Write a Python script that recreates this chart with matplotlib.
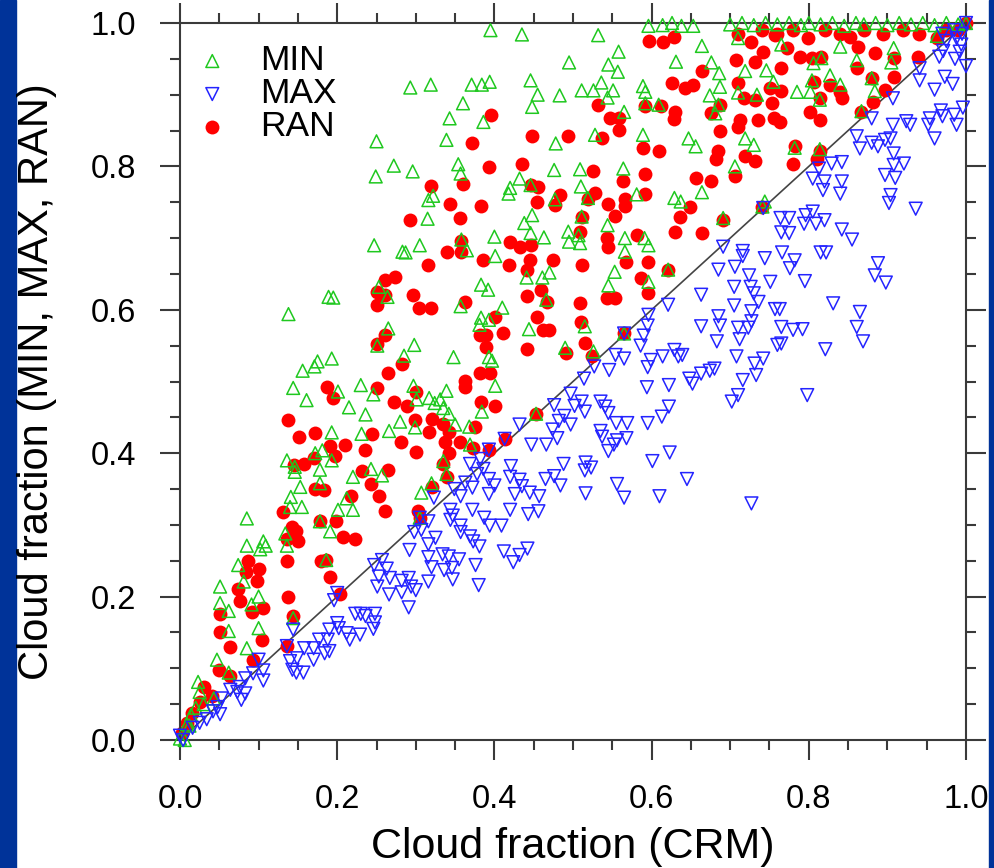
import matplotlib
matplotlib.use("Agg")
import matplotlib.pyplot as plt
from matplotlib.patches import Rectangle

plt.rcParams["font.family"] = ["Liberation Sans", "DejaVu Sans"]

# ── data (cloud fraction, CRM vs overlap schemes) ──

min_x = [0.085, 0.106, 0.102, 0.085, 0.109, 0.134, 0.136, 0.140, 0.155, 0.178, 0.191, 0.201, 0.220,
         0.074, 0.081, 0.051, 0.051, 0.062, 0.091, 0.100, 0.062, 0.100, 0.085, 0.047, 0.062, 0.023,
         0.025, 0.043, 0.186, 0.144, 0.014, 0.009, 0.000, 0.006, 0.020, 0.030, 0.012,
         0.138, 0.189, 0.195, 0.193, 0.175, 0.171, 0.156, 0.144, 0.161, 0.201, 0.215, 0.230, 0.236,
         0.193, 0.231, 0.172, 0.181, 0.193, 0.136, 0.146, 0.146, 0.178, 0.178, 0.220, 0.153, 0.212, 0.141,
         0.395, 0.435, 0.495, 0.293, 0.319, 0.371, 0.384, 0.394, 0.446, 0.455, 0.483, 0.448, 0.360,
         0.343, 0.386, 0.250, 0.339, 0.478, 0.272, 0.296, 0.249, 0.354, 0.357, 0.476, 0.432, 0.446,
         0.420, 0.418, 0.316, 0.322, 0.477, 0.315, 0.448, 0.438, 0.446, 0.494, 0.400, 0.463, 0.358,
         0.247, 0.305, 0.283, 0.365, 0.495,
         0.532, 0.596, 0.614, 0.626, 0.638, 0.653, 0.558, 0.664, 0.631, 0.545, 0.557, 0.676, 0.686,
         0.710, 0.511, 0.526, 0.536, 0.551, 0.544, 0.589, 0.592, 0.592, 0.609, 0.687, 0.674, 0.685,
         0.681, 0.719, 0.710, 0.734, 0.746, 0.755, 0.565, 0.528, 0.589, 0.647, 0.656, 0.719, 0.730,
         0.509, 0.564, 0.706, 0.510, 0.519, 0.581, 0.629, 0.637, 0.664, 0.691, 0.511, 0.544, 0.507,
         0.509, 0.596, 0.566, 0.744,
         0.840, 0.908, 0.861, 0.905, 0.806, 0.816, 0.827, 0.804, 0.840, 0.785, 0.802, 0.880, 0.884,
         0.814, 0.867, 0.782, 0.814, 0.963, 0.765,
         0.287, 0.401, 0.253, 0.264, 0.383, 0.392, 0.441, 0.461, 0.470, 0.357, 0.410, 0.466, 0.383,
         0.393, 0.381, 0.265, 0.444, 0.298, 0.251, 0.285, 0.348, 0.393, 0.397, 0.490, 0.297, 0.246,
         0.401, 0.339, 0.317, 0.324, 0.331, 0.335, 0.342, 0.301, 0.384, 0.280, 0.299, 0.266, 0.350,
         0.368, 0.369, 0.335, 0.339, 0.243, 0.257, 0.320, 0.307,
         0.566, 0.591, 0.553, 0.545, 0.596, 0.621, 0.515, 0.526, 0.565, 0.305, 0.453, 0.741,
         0.700, 0.715, 0.730, 0.745, 0.760, 0.775, 0.790, 0.800, 0.815, 0.830, 0.845, 0.860, 0.870,
         0.885, 0.900, 0.915, 0.930, 0.945, 0.960, 0.975, 0.990, 1.000]
min_y = [0.309, 0.277, 0.266, 0.271, 0.271, 0.288, 0.271, 0.325, 0.325, 0.305, 0.291, 0.321, 0.321,
         0.244, 0.221, 0.214, 0.191, 0.180, 0.189, 0.200, 0.152, 0.156, 0.128, 0.112, 0.094, 0.081,
         0.067, 0.058, 0.251, 0.170, 0.035, 0.022, 0.002, 0.000, 0.045, 0.050, 0.020,
         0.594, 0.618, 0.617, 0.532, 0.528, 0.521, 0.515, 0.491, 0.474, 0.486, 0.464, 0.495, 0.454,
         0.429, 0.427, 0.400, 0.404, 0.390, 0.390, 0.381, 0.374, 0.377, 0.358, 0.367, 0.353, 0.337, 0.339,
         0.990, 0.984, 0.945, 0.910, 0.914, 0.914, 0.914, 0.918, 0.920, 0.900, 0.899, 0.883, 0.888,
         0.867, 0.862, 0.835, 0.837, 0.832, 0.801, 0.793, 0.786, 0.803, 0.790, 0.795, 0.783, 0.774,
         0.770, 0.762, 0.753, 0.759, 0.754, 0.727, 0.732, 0.721, 0.707, 0.709, 0.702, 0.701, 0.698,
         0.690, 0.690, 0.681, 0.683, 0.695,
         0.983, 0.996, 0.997, 1.000, 0.996, 0.996, 0.960, 0.968, 0.946, 0.942, 0.932, 0.945, 0.930,
         0.979, 0.906, 0.906, 0.917, 0.906, 0.896, 0.912, 0.904, 0.888, 0.886, 0.911, 0.899, 0.886,
         0.874, 0.933, 0.903, 0.900, 0.934, 0.918, 0.876, 0.844, 0.844, 0.839, 0.828, 0.839, 0.830,
         0.796, 0.797, 0.800, 0.772, 0.756, 0.761, 0.756, 0.751, 0.764, 0.728, 0.730, 0.718, 0.704,
         0.693, 0.690, 0.681, 0.751,
         0.967, 0.965, 0.948, 0.945, 0.944, 0.951, 0.927, 0.920, 0.914, 0.904, 0.904, 0.923, 0.905,
         0.893, 0.877, 0.826, 0.824, 0.982, 0.970,
         0.680, 0.675, 0.632, 0.618, 0.635, 0.628, 0.645, 0.645, 0.652, 0.605, 0.603, 0.614, 0.589,
         0.586, 0.579, 0.574, 0.573, 0.551, 0.550, 0.536, 0.534, 0.534, 0.529, 0.547, 0.494, 0.482,
         0.494, 0.487, 0.477, 0.470, 0.475, 0.463, 0.455, 0.475, 0.458, 0.444, 0.436, 0.431, 0.440,
         0.437, 0.412, 0.389, 0.371, 0.378, 0.369, 0.358, 0.345,
         0.700, 0.700, 0.653, 0.634, 0.639, 0.656, 0.577, 0.542, 0.567, 0.310, 0.455, 0.744,
         0.998, 1.000, 0.997, 1.000, 0.998, 1.000, 0.997, 1.000, 0.998, 1.000, 0.996, 1.000, 0.998,
         1.000, 0.997, 1.000, 0.998, 1.000, 0.997, 1.000, 0.998, 1.000]

max_x = [0.200, 0.196, 0.223, 0.230, 0.236, 0.200, 0.190, 0.202, 0.212, 0.216, 0.229, 0.144, 0.177,
         0.188, 0.170, 0.158, 0.184, 0.190, 0.170, 0.140, 0.149, 0.143, 0.148, 0.157, 0.136, 0.100,
         0.106, 0.106, 0.093, 0.083, 0.076, 0.083, 0.078, 0.073, 0.064, 0.053, 0.048, 0.051, 0.042,
         0.034, 0.025, 0.016, 0.000, 0.004,
         0.344, 0.347, 0.372, 0.387, 0.394, 0.409, 0.420, 0.443, 0.456, 0.316, 0.298, 0.307, 0.325,
         0.344, 0.357, 0.357, 0.369, 0.381, 0.373, 0.316, 0.292, 0.316, 0.320, 0.334, 0.342, 0.355,
         0.336, 0.346, 0.347, 0.376, 0.380, 0.412, 0.432, 0.442, 0.424, 0.247, 0.257, 0.263, 0.253,
         0.267, 0.251, 0.266, 0.282, 0.282, 0.291, 0.294, 0.300, 0.316, 0.291, 0.248, 0.248, 0.246,
         0.305,
         0.497, 0.476, 0.502, 0.489, 0.482, 0.497, 0.474, 0.480, 0.432, 0.447, 0.466, 0.413, 0.393,
         0.382, 0.386, 0.369, 0.378, 0.363, 0.372, 0.393, 0.400, 0.393, 0.349, 0.357, 0.323, 0.420,
         0.432, 0.435, 0.445, 0.426, 0.457, 0.465, 0.476, 0.484, 0.488, 0.421,
         0.685, 0.706, 0.716, 0.744, 0.724, 0.751, 0.705, 0.726, 0.730, 0.736, 0.663, 0.705, 0.621,
         0.727, 0.757, 0.685, 0.687, 0.727, 0.723, 0.710, 0.663, 0.712, 0.683, 0.760, 0.596, 0.595,
         0.590, 0.586, 0.708, 0.742, 0.731, 0.733, 0.716, 0.629, 0.634, 0.639, 0.614, 0.599, 0.595,
         0.565, 0.554, 0.546, 0.527, 0.514, 0.648, 0.652, 0.663, 0.674, 0.680, 0.622, 0.594, 0.702,
         0.710, 0.511, 0.515, 0.535, 0.541, 0.545, 0.622, 0.613, 0.595, 0.569, 0.555, 0.535, 0.537,
         0.556, 0.568, 0.552, 0.545, 0.623, 0.601, 0.516, 0.523, 0.515, 0.645, 0.556, 0.516, 0.565,
         0.610, 0.727, 0.691, 0.716, 0.742, 0.775, 0.766, 0.565,
         0.782, 0.776, 0.822, 0.795, 0.888, 0.884, 0.898, 0.831, 0.865, 0.763, 0.765, 0.780, 0.792,
         0.861, 0.869, 0.765, 0.821, 0.798,
         0.988, 0.994, 0.992, 0.986, 1.000, 0.975, 0.971, 0.966, 0.941, 0.941, 0.960, 0.973, 0.983,
         0.907, 0.880, 0.907, 0.924, 0.929, 0.954, 0.952, 0.968, 0.970, 0.985, 0.988, 0.996, 0.960,
         0.861, 0.865, 0.880, 0.888, 0.897, 0.904, 0.908, 0.908, 0.921, 0.897, 0.910, 0.902, 0.904,
         0.936, 0.829, 0.842, 0.813, 0.805, 0.820, 0.842, 0.840, 0.818, 0.764, 0.775, 0.796, 0.805,
         0.820, 0.794, 0.809, 0.842, 0.855, 0.815, 0.765, 0.985, 0.995, 1.000, 0.970]
max_y = [0.205, 0.195, 0.176, 0.176, 0.173, 0.163, 0.154, 0.156, 0.149, 0.140, 0.147, 0.154, 0.140,
         0.140, 0.128, 0.128, 0.121, 0.124, 0.112, 0.110, 0.114, 0.098, 0.094, 0.094, 0.131, 0.112,
         0.097, 0.083, 0.093, 0.086, 0.074, 0.065, 0.056, 0.067, 0.070, 0.058, 0.046, 0.036, 0.040,
         0.029, 0.024, 0.017, 0.006, 0.000,
         0.321, 0.313, 0.321, 0.310, 0.299, 0.299, 0.321, 0.315, 0.319, 0.305, 0.290, 0.293, 0.282,
         0.307, 0.299, 0.290, 0.284, 0.270, 0.277, 0.273, 0.265, 0.255, 0.241, 0.259, 0.256, 0.252,
         0.237, 0.240, 0.224, 0.244, 0.216, 0.263, 0.258, 0.267, 0.248, 0.244, 0.251, 0.239, 0.228,
         0.226, 0.214, 0.203, 0.222, 0.206, 0.226, 0.214, 0.209, 0.221, 0.185, 0.176, 0.164, 0.155,
         0.310,
         0.483, 0.467, 0.466, 0.452, 0.445, 0.440, 0.433, 0.421, 0.440, 0.412, 0.412, 0.420, 0.405,
         0.392, 0.378, 0.385, 0.371, 0.359, 0.352, 0.364, 0.355, 0.343, 0.350, 0.340, 0.338, 0.367,
         0.363, 0.354, 0.345, 0.343, 0.340, 0.364, 0.368, 0.355, 0.385, 0.382,
         0.656, 0.660, 0.675, 0.672, 0.648, 0.639, 0.632, 0.632, 0.623, 0.611, 0.621, 0.606, 0.607,
         0.598, 0.601, 0.591, 0.578, 0.584, 0.575, 0.575, 0.577, 0.559, 0.556, 0.551, 0.593, 0.578,
         0.564, 0.550, 0.535, 0.532, 0.525, 0.509, 0.502, 0.544, 0.535, 0.537, 0.535, 0.530, 0.520,
         0.532, 0.537, 0.516, 0.521, 0.504, 0.504, 0.497, 0.511, 0.515, 0.518, 0.495, 0.492, 0.472,
         0.481, 0.472, 0.458, 0.472, 0.465, 0.456, 0.465, 0.451, 0.442, 0.442, 0.442, 0.431, 0.423,
         0.418, 0.421, 0.412, 0.403, 0.401, 0.389, 0.387, 0.380, 0.376, 0.364, 0.357, 0.344, 0.338,
         0.340, 0.330, 0.688, 0.682, 0.742, 0.707, 0.680, 0.567,
         0.669, 0.658, 0.680, 0.640, 0.665, 0.648, 0.638, 0.609, 0.597, 0.601, 0.576, 0.572, 0.573,
         0.576, 0.556, 0.553, 0.545, 0.481,
         0.979, 0.970, 0.960, 0.950, 0.940, 0.975, 0.961, 0.953, 0.937, 0.920, 0.907, 0.925, 0.915,
         0.895, 0.867, 0.858, 0.863, 0.858, 0.867, 0.858, 0.878, 0.870, 0.872, 0.858, 0.882, 0.839,
         0.842, 0.825, 0.833, 0.828, 0.837, 0.839, 0.818, 0.802, 0.804, 0.788, 0.784, 0.749, 0.760,
         0.741, 0.804, 0.806, 0.797, 0.783, 0.779, 0.779, 0.762, 0.767, 0.728, 0.728, 0.732, 0.737,
         0.725, 0.720, 0.720, 0.712, 0.698, 0.680, 0.708, 0.990, 0.985, 1.000, 0.985]

ran_x = [0.131, 0.142, 0.150, 0.136, 0.148, 0.178, 0.208, 0.223, 0.199, 0.180, 0.191, 0.136, 0.138,
         0.086, 0.084, 0.101, 0.098, 0.074, 0.076, 0.091, 0.106, 0.051, 0.051, 0.063, 0.104, 0.093,
         0.049, 0.063, 0.144, 0.030, 0.025, 0.041, 0.015, 0.009, 0.003, 0.136, 0.204, 0.186,
         0.138, 0.152, 0.172, 0.187, 0.195, 0.191, 0.197, 0.210, 0.236, 0.158, 0.171, 0.145, 0.231,
         0.172, 0.183, 0.218, 0.261, 0.261, 0.261,
         0.396, 0.372, 0.448, 0.494, 0.393, 0.435, 0.319, 0.360, 0.456, 0.483, 0.343, 0.383, 0.454,
         0.477, 0.292, 0.356, 0.446, 0.357, 0.420, 0.433, 0.447, 0.340,
         0.597, 0.615, 0.628, 0.664, 0.626, 0.643, 0.653, 0.708, 0.727, 0.742, 0.732, 0.757, 0.710,
         0.717, 0.732, 0.751, 0.753, 0.532, 0.547, 0.558, 0.558, 0.592, 0.612, 0.630, 0.628, 0.676,
         0.687, 0.712, 0.710, 0.735, 0.756, 0.687, 0.537, 0.589, 0.609, 0.685, 0.682, 0.719, 0.732,
         0.526, 0.564, 0.591, 0.656, 0.676, 0.706, 0.528, 0.519, 0.544, 0.566, 0.566, 0.592, 0.553,
         0.649, 0.636, 0.511, 0.509, 0.691, 0.630, 0.664, 0.581, 0.545, 0.741,
         0.799, 0.852, 0.863, 0.884, 0.908, 0.939, 0.963, 0.772, 0.789, 0.804, 0.816, 0.765, 0.806,
         0.827, 0.840, 0.861, 0.880, 0.908, 0.897, 0.882, 0.867, 0.842, 0.814, 0.802, 0.814, 0.764,
         0.763, 0.782, 0.780, 0.814, 0.811,
         0.710, 0.740, 0.760, 0.780, 0.820, 0.840, 0.870, 0.895, 0.920, 0.940, 0.975, 0.990, 1.000,
         0.316, 0.358, 0.386, 0.418, 0.441, 0.445, 0.474, 0.274, 0.250, 0.296, 0.250, 0.304, 0.319,
         0.363, 0.441, 0.459, 0.467, 0.401, 0.454, 0.382, 0.389, 0.411, 0.462, 0.470, 0.441, 0.491,
         0.389, 0.251, 0.282, 0.264, 0.382, 0.394, 0.363, 0.363, 0.251, 0.300, 0.272, 0.289, 0.383,
         0.401, 0.453, 0.321, 0.335, 0.342, 0.299, 0.317, 0.244, 0.281, 0.337, 0.356, 0.375, 0.373,
         0.300, 0.342, 0.335, 0.413, 0.393, 0.264, 0.243, 0.340, 0.321, 0.253,
         0.511, 0.543, 0.568, 0.596, 0.587, 0.621, 0.595, 0.509, 0.543, 0.553, 0.510, 0.565, 0.515,
         0.524, 0.261, 0.303, 0.305]
ran_y = [0.318, 0.297, 0.277, 0.281, 0.292, 0.306, 0.283, 0.281, 0.306, 0.249, 0.227, 0.249, 0.199,
         0.249, 0.235, 0.238, 0.222, 0.211, 0.194, 0.179, 0.184, 0.176, 0.150, 0.130, 0.139, 0.112,
         0.098, 0.089, 0.173, 0.074, 0.053, 0.062, 0.038, 0.024, 0.010, 0.131, 0.204, 0.251,
         0.446, 0.423, 0.428, 0.493, 0.477, 0.410, 0.396, 0.411, 0.405, 0.385, 0.394, 0.383, 0.375,
         0.350, 0.349, 0.340, 0.565, 0.642, 0.621,
         0.872, 0.832, 0.842, 0.843, 0.799, 0.804, 0.772, 0.775, 0.771, 0.760, 0.748, 0.745, 0.751,
         0.746, 0.725, 0.728, 0.774, 0.696, 0.694, 0.688, 0.690, 0.681,
         0.975, 0.973, 0.981, 0.933, 0.917, 0.909, 0.914, 0.948, 0.974, 0.960, 0.946, 0.983, 0.917,
         0.895, 0.892, 0.909, 0.888, 0.886, 0.867, 0.867, 0.851, 0.884, 0.884, 0.876, 0.866, 0.874,
         0.885, 0.865, 0.855, 0.865, 0.867, 0.849, 0.839, 0.825, 0.821, 0.821, 0.810, 0.814, 0.808,
         0.794, 0.780, 0.789, 0.784, 0.780, 0.786, 0.763, 0.755, 0.748, 0.755, 0.745, 0.761, 0.731,
         0.744, 0.730, 0.729, 0.709, 0.725, 0.708, 0.707, 0.704, 0.688, 0.744,
         0.979, 0.981, 0.967, 0.958, 0.951, 0.953, 0.979, 0.965, 0.953, 0.951, 0.953, 0.937, 0.918,
         0.914, 0.904, 0.937, 0.923, 0.925, 0.907, 0.890, 0.876, 0.895, 0.895, 0.876, 0.865, 0.905,
         0.862, 0.828, 0.803, 0.821, 0.810,
         0.985, 0.990, 0.985, 0.990, 0.990, 0.985, 0.990, 0.985, 0.990, 0.985, 0.990, 0.990, 1.000,
         0.662, 0.680, 0.669, 0.662, 0.656, 0.670, 0.670, 0.646, 0.625, 0.621, 0.607, 0.603, 0.603,
         0.611, 0.619, 0.628, 0.611, 0.590, 0.590, 0.565, 0.565, 0.567, 0.572, 0.572, 0.545, 0.540,
         0.548, 0.552, 0.524, 0.512, 0.512, 0.512, 0.501, 0.492, 0.491, 0.486, 0.472, 0.466, 0.471,
         0.466, 0.455, 0.448, 0.441, 0.430, 0.446, 0.430, 0.427, 0.416, 0.416, 0.416, 0.437, 0.407,
         0.402, 0.400, 0.385, 0.420, 0.405, 0.376, 0.357, 0.367, 0.353, 0.340,
         0.662, 0.700, 0.667, 0.667, 0.644, 0.656, 0.623, 0.609, 0.616, 0.616, 0.583, 0.567, 0.553,
         0.535, 0.320, 0.320, 0.310]

labels = ["MIN", "MAX", "RAN"]
GREEN = "#1fc81f"
BLUE = "#2424ff"
RED = "#ff0000"
FRAME = "#3a3a3a"

fig = plt.figure(figsize=(9.94, 8.68), dpi=100, facecolor="white")
# blue slide border on the left and right
fig.patches.append(Rectangle((0, 0), 16 / 994, 1, transform=fig.transFigure,
                             color="#003399", zorder=-10))
fig.patches.append(Rectangle((989 / 994, 0), 5 / 994, 1, transform=fig.transFigure,
                             color="#003399", zorder=-10))

ax = fig.add_axes([180 / 994, 128 / 868, 786 / 994, 717 / 868])

ax.plot([0, 1], [0, 1], color="#444444", linewidth=1.2, zorder=1)
h_ran = ax.scatter(ran_x, ran_y, s=100, marker="o", color=RED, linewidths=0,
                   clip_on=False, zorder=2, label=labels[2])
h_min = ax.scatter(min_x, min_y, s=85, marker="^", facecolors="none", edgecolors=GREEN,
                   linewidths=1.1, clip_on=False, zorder=3, label=labels[0])
h_max = ax.scatter(max_x, max_y, s=85, marker="v", facecolors="none", edgecolors=BLUE,
                   linewidths=1.1, clip_on=False, zorder=4, label=labels[1])

ax.set_xlim(0, 1)
ax.set_ylim(0, 1)
ax.set_xticks([0, 0.2, 0.4, 0.6, 0.8, 1.0])
ax.set_yticks([0, 0.2, 0.4, 0.6, 0.8, 1.0])
ax.set_xticklabels(["0.0", "0.2", "0.4", "0.6", "0.8", "1.0"])
ax.set_yticklabels(["0.0", "0.2", "0.4", "0.6", "0.8", "1.0"])
ax.set_xticks([i * 0.05 for i in range(21)], minor=True)
ax.set_yticks([i * 0.05 for i in range(21)], minor=True)

for sp in ax.spines.values():
    sp.set_color(FRAME)
    sp.set_linewidth(1.5)

ax.tick_params(which="both", direction="out", top=True, right=True, color=FRAME,
               width=1.5, labelsize=23.5)
ax.tick_params(which="major", length=14.5)
ax.tick_params(which="minor", length=7)
ax.tick_params(axis="y", which="major", pad=17)
ax.tick_params(axis="x", which="major", pad=17)

ax.set_xlabel("Cloud fraction (CRM)", fontsize=31)
ax.set_ylabel("Cloud fraction (MIN, MAX, RAN)", fontsize=30)
ax.xaxis.set_label_coords(0.5, -0.122)
ax.yaxis.set_label_coords(-0.157, 0.5)

leg = ax.legend(handles=[h_min, h_max, h_ran], loc="upper left", bbox_to_anchor=(-0.004, 0.99),
                frameon=False, fontsize=25.5, handlelength=1.2, handletextpad=0.75,
                labelspacing=0.0, borderaxespad=0, scatterpoints=1)

fig.savefig("out.png", dpi=100, facecolor=fig.get_facecolor())
